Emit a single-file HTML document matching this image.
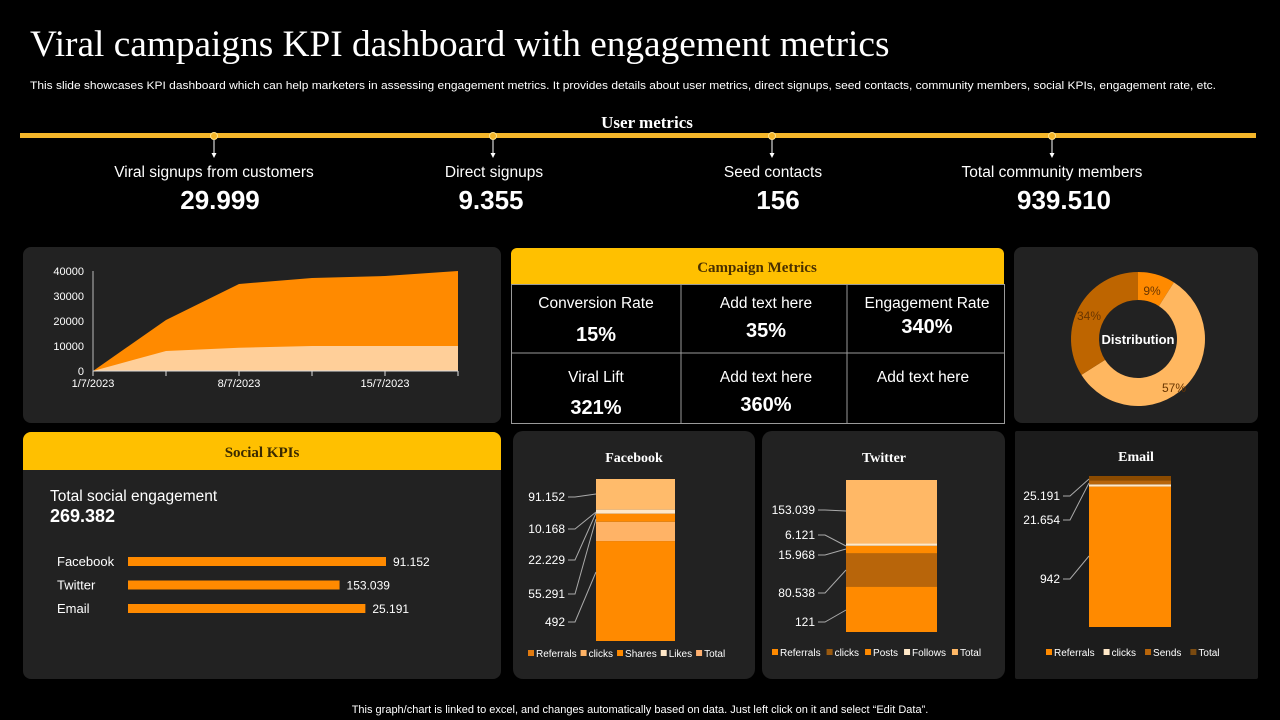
<!DOCTYPE html>
<html><head><meta charset="utf-8">
<style>
html,body{margin:0;padding:0;background:#000;width:1280px;height:720px;overflow:hidden}
svg{display:block}
text{font-family:"Liberation Sans",sans-serif}
.serif{font-family:"Liberation Serif",serif}
</style></head>
<body>
<svg id="s" width="1280" height="720" viewBox="0 0 1280 720" xmlns="http://www.w3.org/2000/svg">
<rect width="1280" height="720" fill="#000"/>
<text class="serif" x="30" y="56" font-size="37.3" fill="#fff">Viral campaigns KPI dashboard with engagement metrics</text>
<text x="30" y="89" font-size="11" fill="#fff" textLength="1186" lengthAdjust="spacingAndGlyphs">This slide showcases KPI dashboard which can help marketers in assessing engagement metrics. It provides details about user metrics, direct signups, seed contacts, community members, social KPIs, engagement rate, etc.</text>

<text class="serif" x="647" y="128" font-size="17" font-weight="bold" fill="#fff" text-anchor="middle">User metrics</text>
<rect x="20" y="133" width="1236" height="5" fill="#F4B62A"/>
<g id="markers"></g>

<rect x="23" y="247" width="478" height="176" rx="8" fill="#222"/>
<rect x="1014" y="247" width="244" height="176" rx="8" fill="#222"/>
<rect x="23" y="432" width="478" height="247" rx="8" fill="#222"/>
<path d="M23,470 V440 a8,8 0 0 1 8,-8 H493 a8,8 0 0 1 8,8 V470 Z" fill="#FFC000"/>
<text class="serif" x="262" y="457" font-size="15" font-weight="bold" fill="#3a2a00" text-anchor="middle">Social KPIs</text>
<rect x="513" y="431" width="242" height="248" rx="10" fill="#222"/>
<rect x="762" y="431" width="243" height="248" rx="10" fill="#222"/>
<rect x="1015" y="431" width="243" height="248" rx="2" fill="#1c1c1c"/>

<path d="M511,284 V254 a6,6 0 0 1 6,-6 H998 a6,6 0 0 1 6,6 V284 Z" fill="#FFC000"/>
<text class="serif" x="757" y="272" font-size="15" font-weight="bold" fill="#4a3000" text-anchor="middle">Campaign  Metrics</text>
<g stroke="#9a9a9a" stroke-width="1" fill="none">
<rect x="511.5" y="284.5" width="493" height="139"/>
<line x1="681" y1="284" x2="681" y2="424"/><line x1="847" y1="284" x2="847" y2="424"/>
<line x1="511" y1="353" x2="1004" y2="353"/>
</g>
<g fill="#fff" text-anchor="middle">
<text x="596" y="308" font-size="15.5">Conversion Rate</text>
<text x="596" y="341" font-size="20" font-weight="bold">15%</text>
<text x="766" y="308" font-size="15.5">Add text here</text>
<text x="766" y="337" font-size="20" font-weight="bold">35%</text>
<text x="927" y="308" font-size="15.5">Engagement Rate</text>
<text x="927" y="333" font-size="20" font-weight="bold">340%</text>
<text x="596" y="382" font-size="15.5">Viral Lift</text>
<text x="596" y="414" font-size="20" font-weight="bold">321%</text>
<text x="766" y="382" font-size="15.5">Add text here</text>
<text x="766" y="411" font-size="20" font-weight="bold">360%</text>
<text x="923" y="382" font-size="15.5">Add text here</text>
</g>

<text x="50" y="501" font-size="15.5" fill="#fff">Total social engagement</text>
<text x="50" y="522" font-size="18" font-weight="bold" fill="#fff">269.382</text>
<g id="social"></g>

<text class="serif" x="634" y="462" font-size="14" font-weight="bold" fill="#fff" text-anchor="middle">Facebook</text>
<text class="serif" x="884" y="462" font-size="14" font-weight="bold" fill="#fff" text-anchor="middle">Twitter</text>
<text class="serif" x="1136" y="461" font-size="14" font-weight="bold" fill="#fff" text-anchor="middle">Email</text>

<g id="area"></g>
<g id="donut"></g>
<g id="stacks"></g>

<text x="640" y="713" font-size="11" fill="#fff" text-anchor="middle">This graph/chart is linked to excel, and changes automatically based on data. Just left click on it and select “Edit Data”.</text>
</svg>
<script>
const kpiLabels = ["Viral signups from customers","Direct signups","Seed contacts","Total community members"];
const kpiValues = ["29.999","9.355","156","939.510"];

const areaDates = ["1/7/2023","","8/7/2023","","15/7/2023",""];
const areaTotal = [0,20400,34800,37200,38000,40000];
const areaBase = [0,8000,9300,10000,10000,10000];
const areaYTicks = [0,10000,20000,30000,40000];

const donutLabels = ["9%","57%","34%"];
const donutValues = [9,57,34];

const socialNames = ["Facebook","Twitter","Email"];
const socialBarValues = [100,82,92];
const socialPrinted = ["91.152","153.039","25.191"];

const fbSeries = ["Referrals","clicks","Shares","Likes","Total"];
const fbValues = [62,12,5,2.5,19];
const fbPrinted = ["91.152","10.168","22.229","55.291","492"];
const twSeries = ["Referrals","clicks","Posts","Follows","Total"];
const twValues = [30,22,5,1.5,42];
const twPrinted = ["153.039","6.121","15.968","80.538","121"];
const emSeries = ["Referrals","clicks","Sends","Total"];
const emValues = [93,1.5,2.5,3];
const emPrinted = ["25.191","21.654","942"];

const NS="http://www.w3.org/2000/svg";
function mk(tag,attrs,parent){const e=document.createElementNS(NS,tag);for(const k in attrs)e.setAttribute(k,attrs[k]);parent.appendChild(e);return e;}

const mg=document.getElementById('markers');
const kpiX=[214,493,772,1052];
const kpiCX=[214,494,773,1052];
const kpiVX=[220,491,778,1064];
kpiLabels.forEach((l,i)=>{
  const x=kpiX[i];
  const c=mk('circle',{cx:x,cy:136,r:3.5,fill:'#F4B62A',stroke:'#ffe08a','stroke-width':1},mg);
  
  
  mk('line',{x1:x,y1:140,x2:x,y2:154,stroke:'#fff','stroke-width':1},mg);
  mk('path',{d:`M${x-2.5},153 L${x+2.5},153 L${x},158 Z`,fill:'#fff'},mg);
  const t=mk('text',{x:kpiCX[i],y:177,'font-size':15.5,fill:'#fff','text-anchor':'middle'},mg);t.textContent=l;
  
  
  const v=mk('text',{x:kpiVX[i],y:209,'font-size':26,'font-weight':'bold',fill:'#fff','text-anchor':'middle'},mg);v.textContent=kpiValues[i];
  
  
});

const ag=document.getElementById('area');
const ax0=93,ax1=458,ay0=371,ay1=271;
const xs=i=>ax0+(ax1-ax0)*i/(areaTotal.length-1);
const ys=v=>ay0-(ay0-ay1)*v/40000;
let d='M'+xs(0)+','+ay0;areaTotal.forEach((v,i)=>d+=' L'+xs(i)+','+ys(v));d+=' L'+xs(areaTotal.length-1)+','+ay0+' Z';
const a1=mk('path',{d:d,fill:'#FF8A00'},ag);


d='M'+xs(0)+','+ay0;areaBase.forEach((v,i)=>d+=' L'+xs(i)+','+ys(v));d+=' L'+xs(areaBase.length-1)+','+ay0+' Z';
const a2=mk('path',{d:d,fill:'#FFCF99'},ag);


mk('line',{x1:ax0,y1:ay1,x2:ax0,y2:ay0,stroke:'#bbb','stroke-width':1},ag);
mk('line',{x1:ax0,y1:ay0,x2:ax1,y2:ay0,stroke:'#ddd','stroke-width':1},ag);
areaYTicks.forEach(v=>{const t=mk('text',{x:84,y:ys(v)+4,'font-size':11,fill:'#fff','text-anchor':'end'},ag);t.textContent=v;
  
  });
areaDates.forEach((l,i)=>{mk('line',{x1:xs(i),y1:ay0,x2:xs(i),y2:ay0+5,stroke:'#ddd'},ag);
  if(l){const t=mk('text',{x:xs(i),y:387,'font-size':11,fill:'#fff','text-anchor':'middle'},ag);t.textContent=l;
  
  }});

const dg=document.getElementById('donut');
const cx=1138,cy=339,R=67,r=39;
const dcol=['#FF8A00','#FFB760','#BE6500'];
const dLabOff=[[14,-48],[36,49],[-49,-23]];
let acc=0;const tot=donutValues.reduce((a,b)=>a+b,0);
donutValues.forEach((v,i)=>{
  const a0=acc/tot*2*Math.PI,a1=(acc+v)/tot*2*Math.PI;acc+=v;
  const p=(rad,a)=>[cx+rad*Math.sin(a),cy-rad*Math.cos(a)];
  const lg=(a1-a0)>Math.PI?1:0;
  const [x0,y0]=p(R,a0),[x1,y1]=p(R,a1),[x2,y2]=p(r,a1),[x3,y3]=p(r,a0);
  const s=mk('path',{d:`M${x0},${y0} A${R},${R} 0 ${lg} 1 ${x1},${y1} L${x2},${y2} A${r},${r} 0 ${lg} 0 ${x3},${y3} Z`,fill:dcol[i]},dg);
  
  
});
donutLabels.forEach((l,i)=>{
  const t=mk('text',{x:cx+dLabOff[i][0],y:cy+dLabOff[i][1]+4,'font-size':12,fill:'#6a3600','text-anchor':'middle'},dg);t.textContent=l;
  
  
});
const dt=mk('text',{x:cx,y:cy+5,'font-size':13,'font-weight':'bold',fill:'#fff','text-anchor':'middle'},dg);dt.textContent='Distribution';



const sg=document.getElementById('social');
const sx0=128,sMax=258;
socialNames.forEach((n,i)=>{
  const y=557+i*23.5;
  const t=mk('text',{x:57,y:y+9,'font-size':13,fill:'#fff'},sg);t.textContent=n;
  
  
  const w=sMax*socialBarValues[i]/100;
  const b=mk('rect',{x:sx0,y:y,width:w,height:9,fill:'#FF8A00'},sg);
  
  
  const v=mk('text',{x:sx0+w+7,y:y+9,'font-size':12,fill:'#fff'},sg);v.textContent=socialPrinted[i];
  
  
});

const stg=document.getElementById('stacks');
function stack(opt){
  const {x0,x1,top,bottom,vals,cols,labels,labY,labX,series,legX,legY,legCols,legGap,legFs,name}=opt;
  const tot=vals.reduce((a,b)=>a+b,0);const h=bottom-top;
  let y=bottom;
  vals.forEach((v,i)=>{const hh=h*v/tot;y-=hh;
    const b=mk('rect',{x:x0,y:y,width:x1-x0,height:hh,fill:cols[i]},stg);
    
    });
  labels.forEach((l,i)=>{
    const t=mk('text',{x:labX,y:labY[i]+4,'font-size':12,fill:'#fff','text-anchor':'end'},stg);t.textContent=l;
    
    
    const ty=opt.targets[i];
    mk('polyline',{points:`${labX+3},${labY[i]} ${labX+10},${labY[i]} ${x0},${ty}`,fill:'none',stroke:'#aaa','stroke-width':1},stg);
  });
  let lx=legX;
  series.forEach((s,i)=>{
    mk('rect',{x:lx,y:legY-7,width:6,height:6,fill:legCols[i]},stg);
    const t=mk('text',{x:lx+8,y:legY,'font-size':legFs,fill:'#fff'},stg);t.textContent=s;
    
    
    lx+=8+t.getComputedTextLength()+legGap;
  });
}
stack({name:'facebook',x0:596,x1:675,top:479,bottom:641,vals:fbValues,cols:['#FF8A00','#FFB366','#FF8A00','#FFE8C8','#FFBB6B'],
  labels:fbPrinted,labY:[497,529,560,594,622],labX:565,targets:[494,512,513,519,572],
  series:fbSeries,legX:528,legY:657,legCols:['#E07A10','#FFB366','#FF8A00','#FFE8C8','#FFB070'],legGap:4,legFs:10});
stack({name:'twitter',x0:846,x1:937,top:480,bottom:632,vals:twValues,cols:['#FF8A00','#B8650A','#FF8A00','#FFE8C8','#FFB866'],
  labels:twPrinted,labY:[510,535,555,593,622],labX:815,targets:[511,546,549,570,610],
  series:twSeries,legX:772,legY:656,legCols:['#FF8A00','#9a5a10','#FF8A00','#FFE8C8','#FFB866'],legGap:6,legFs:10});
stack({name:'email',x0:1089,x1:1171,top:476,bottom:627,vals:emValues,cols:['#FF8A00','#FFE8C8','#B8650A','#8a4a00'],
  labels:emPrinted,labY:[496,520,579],labX:1060,targets:[479,483,556],
  series:emSeries,legX:1046,legY:656,legCols:['#FF8A00','#FFE8C8','#B8650A','#7a4a10'],legGap:9,legFs:10});
</script>
</body></html>
